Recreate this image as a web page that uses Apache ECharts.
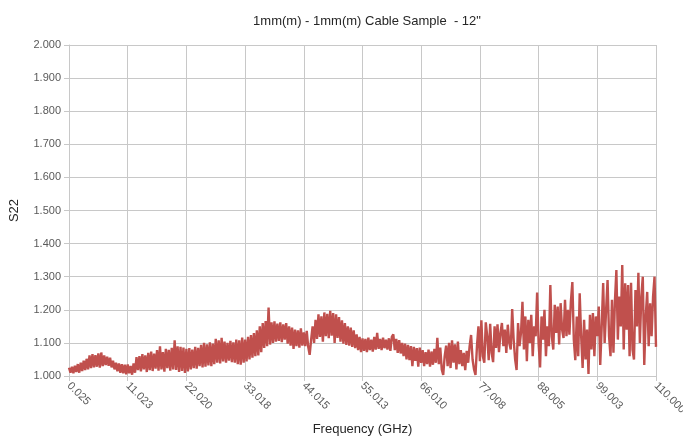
<!DOCTYPE html>
<html>
<head>
<meta charset="utf-8">
<script src="https://cdn.jsdelivr.net/npm/echarts@6/dist/echarts.min.js"></script>
<style>
  html, body { margin: 0; padding: 0; background: #fff; }
  #s22Chart { width: 683px; height: 436px; }
</style>
</head>
<body>
<div id="s22Chart"></div>
<script>
const s22Chart = echarts.init(document.getElementById('s22Chart'));

// frequency sweep 0.025 .. 110.000 GHz, 401 samples, label every 40th
const freqStart = 0.025;
const freqStop = 110.0;
const sampleCount = 401;
const labelEvery = 40;

// S22 (one value per sample)
const s22 = [
    1.025, 1.010, 1.028, 1.008, 1.031, 1.012, 1.036, 1.010, 1.040, 1.015,
    1.046, 1.018, 1.052, 1.020, 1.062, 1.024, 1.066, 1.026, 1.063, 1.028,
    1.068, 1.025, 1.071, 1.030, 1.062, 1.033, 1.058, 1.031, 1.055, 1.026,
    1.046, 1.020, 1.040, 1.014, 1.038, 1.010, 1.036, 1.008, 1.034, 1.005,

    1.035, 1.008, 1.030, 1.004, 1.038, 1.010, 1.057, 1.018, 1.060, 1.014,
    1.066, 1.020, 1.062, 1.012, 1.070, 1.018, 1.074, 1.015, 1.068, 1.022,
    1.078, 1.016, 1.090, 1.020, 1.072, 1.013, 1.082, 1.024, 1.079, 1.016,
    1.085, 1.020, 1.108, 1.018, 1.090, 1.012, 1.088, 1.015, 1.086, 1.009,

    1.082, 1.014, 1.084, 1.020, 1.080, 1.024, 1.088, 1.022, 1.085, 1.030,
    1.094, 1.026, 1.100, 1.028, 1.096, 1.032, 1.102, 1.030, 1.098, 1.036,
    1.112, 1.040, 1.108, 1.038, 1.115, 1.044, 1.104, 1.040, 1.100, 1.046,
    1.106, 1.042, 1.102, 1.040, 1.110, 1.036, 1.108, 1.034, 1.116, 1.040,

    1.110, 1.044, 1.118, 1.050, 1.124, 1.055, 1.130, 1.060, 1.138, 1.062,
    1.150, 1.072, 1.160, 1.085, 1.166, 1.090, 1.207, 1.095, 1.162, 1.100,
    1.165, 1.104, 1.158, 1.106, 1.162, 1.102, 1.156, 1.110, 1.160, 1.098,
    1.150, 1.092, 1.146, 1.082, 1.140, 1.090, 1.138, 1.086, 1.144, 1.092,

    1.132, 1.090, 1.136, 1.088, 1.064, 1.110, 1.150, 1.100, 1.170, 1.112,
    1.186, 1.118, 1.180, 1.104, 1.192, 1.120, 1.188, 1.114, 1.197, 1.122,
    1.190, 1.100, 1.186, 1.115, 1.178, 1.104, 1.168, 1.098, 1.160, 1.094,
    1.150, 1.092, 1.146, 1.088, 1.138, 1.084, 1.126, 1.078, 1.118, 1.072,

    1.114, 1.076, 1.112, 1.072, 1.116, 1.078, 1.110, 1.074, 1.118, 1.080,
    1.130, 1.082, 1.112, 1.078, 1.116, 1.084, 1.110, 1.080, 1.114, 1.076,
    1.118, 1.126, 1.078, 1.112, 1.070, 1.108, 1.068, 1.100, 1.060, 1.098,
    1.050, 1.094, 1.048, 1.090, 1.030, 1.088, 1.046, 1.084, 1.028, 1.086,

    1.040, 1.078, 1.030, 1.072, 1.036, 1.080, 1.028, 1.074, 1.034, 1.082,
    1.040, 1.115, 1.036, 1.086, 1.020, 1.003, 1.060, 1.092, 1.030, 1.100,
    1.024, 1.108, 1.040, 1.096, 1.020, 1.104, 1.036, 1.078, 1.030, 1.070,
    1.018, 1.076, 1.040, 1.090, 1.124, 1.050, 1.020, 1.003, 1.090, 1.150,

    1.045, 1.168, 1.060, 1.040, 1.162, 1.120, 1.048, 1.158, 1.070, 1.042,
    1.150, 1.085, 1.156, 1.072, 1.130, 1.160, 1.090, 1.140, 1.070, 1.155,
    1.100, 1.080, 1.202, 1.110, 1.050, 1.018, 1.160, 1.090, 1.130, 1.224,
    1.080, 1.180, 1.045, 1.170, 1.100, 1.185, 1.060, 1.150, 1.120, 1.252,

    1.100, 1.026, 1.180, 1.110, 1.200, 1.060, 1.150, 1.090, 1.275, 1.120,
    1.080, 1.215, 1.130, 1.210, 1.095, 1.220, 1.140, 1.115, 1.230, 1.120,
    1.200, 1.125, 1.225, 1.284, 1.110, 1.048, 1.180, 1.060, 1.250, 1.120,
    1.024, 1.170, 1.050, 1.140, 1.006, 1.185, 1.080, 1.190, 1.060, 1.180,

    1.120, 1.210, 1.033, 1.150, 1.281, 1.100, 1.200, 1.290, 1.120, 1.060,
    1.230, 1.070, 1.225, 1.320, 1.110, 1.240, 1.150, 1.335, 1.080, 1.280,
    1.140, 1.275, 1.060, 1.282, 1.080, 1.050, 1.260, 1.150, 1.312, 1.100,
    1.240, 1.300, 1.033, 1.180, 1.254, 1.090, 1.220, 1.120, 1.240, 1.300,
    1.088
];

function buildFreqs() {
    let freqs = [];
    let step = (freqStop - freqStart) / (sampleCount - 1);
    for (let i = 0; i < sampleCount; i++) {
        let f = Math.round((freqStart + i * step) * 1000 + 1e-6) / 1000;
        freqs.push(f.toFixed(3));
    }
    return freqs;
}

const gridColor = '#c8c8c8';
const labelColor = '#595959';

function defineS22Option(freqs) {
    return {
        title: {
            text: '1mm(m) - 1mm(m) Cable Sample  - 12"',
            left: 362,
            top: 10,
            textAlign: 'center',
            textStyle: {
                fontFamily: 'Liberation Sans',
                fontWeight: 'normal',
                fontSize: 13,
                color: '#262626'
            }
        },
        animation: false,
        grid: {
            left: 69,
            right: 27,
            top: 45,
            bottom: 60,
            containLabel: false,
            outerBoundsMode: 'none'
        },
        xAxis: {
            type: 'category',
            data: freqs,
            boundaryGap: false,
            name: 'Frequency (GHz)',
            nameLocation: 'middle',
            nameGap: 45,
            nameTextStyle: {
                fontFamily: 'Liberation Sans',
                fontSize: 13,
                color: '#262626'
            },
            axisLine: { lineStyle: { color: gridColor } },
            axisTick: {
                show: true,
                interval: labelEvery - 1,
                length: 5,
                lineStyle: { color: gridColor }
            },
            axisLabel: {
                interval: labelEvery - 1,
                rotate: -45,
                margin: 8,
                fontFamily: 'Liberation Sans',
                fontSize: 11,
                color: labelColor
            },
            splitLine: {
                show: true,
                interval: labelEvery - 1,
                lineStyle: { color: gridColor, width: 1 }
            }
        },
        yAxis: {
            type: 'value',
            min: 1,
            max: 2,
            interval: 0.1,
            name: 'S22',
            nameLocation: 'middle',
            nameGap: 48,
            nameTextStyle: {
                fontFamily: 'Liberation Sans',
                fontSize: 13,
                color: '#262626'
            },
            axisLine: { show: true, lineStyle: { color: gridColor } },
            axisTick: { show: true, length: 5, lineStyle: { color: gridColor } },
            axisLabel: {
                margin: 8,
                fontFamily: 'Liberation Sans',
                fontSize: 11,
                color: labelColor,
                formatter: (val) => val.toFixed(3)
            },
            splitLine: { lineStyle: { color: gridColor, width: 1 } }
        },
        series: [
            {
                name: 'S22',
                type: 'line',
                data: s22,
                showSymbol: false,
                symbol: 'none',
                lineStyle: { color: '#c0504d', width: 2.4 }
            }
        ]
    };
}

s22Chart.setOption(defineS22Option(buildFreqs()));
</script>
</body>
</html>
